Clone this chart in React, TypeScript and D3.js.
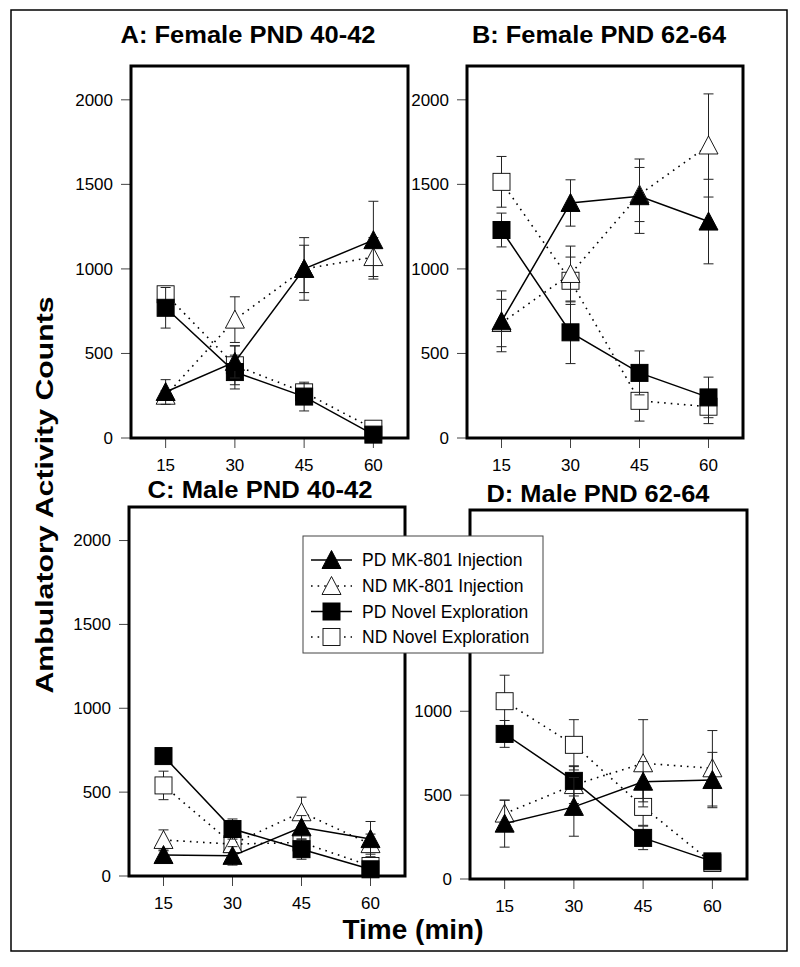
import React from "react";
import * as d3 from "d3";

// ---------- data ----------
const times = [15, 30, 45, 60];
const yTicks = [0, 500, 1000, 1500, 2000];
const panelTitles = ["A: Female PND 40-42", "B: Female PND 62-64", "C: Male PND 40-42", "D: Male PND 62-64"];
const seriesNames = ["PD MK-801 Injection", "ND MK-801 Injection", "PD Novel Exploration", "ND Novel Exploration"];

// Panel A: Female PND 40-42
const aPdMk = [272, 450, 1000, 1170];
const aPdMkErr = [73, 95, 185, 230];
const aNdMk = [250, 700, 1000, 1070];
const aNdMkErr = [30, 135, 140, 115];
const aPdNovel = [770, 390, 245, 20];
const aPdNovelErr = [120, 100, 85, 20];
const aNdNovel = [850, 430, 270, 55];
const aNdNovelErr = [35, 115, 50, 20];

// Panel B: Female PND 62-64
const bPdMk = [690, 1390, 1430, 1280];
const bPdMkErr = [180, 137, 220, 250];
const bNdMk = [680, 970, 1440, 1730];
const bNdMkErr = [140, 165, 160, 305];
const bPdNovel = [1230, 625, 385, 240];
const bPdNovelErr = [100, 185, 130, 120];
const bNdNovel = [1515, 930, 220, 185];
const bNdNovelErr = [150, 140, 120, 100];

// Panel C: Male PND 40-42
const cPdMk = [125, 120, 290, 220];
const cPdMkErr = [25, 55, 70, 105];
const cNdMk = [215, 190, 380, 190];
const cNdMkErr = [60, 40, 90, 60];
const cPdNovel = [715, 280, 160, 40];
const cPdNovelErr = [20, 60, 60, 20];
const cNdNovel = [540, 190, 200, 60];
const cNdNovelErr = [85, 50, 60, 40];

// Panel D: Male PND 62-64
const dPdMk = [330, 430, 580, 590];
const dPdMkErr = [140, 175, 120, 165];
const dNdMk = [390, 560, 690, 660];
const dNdMkErr = [80, 110, 260, 225];
const dPdNovel = [865, 585, 245, 105];
const dPdNovelErr = [80, 90, 70, 20];
const dNdNovel = [1060, 800, 430, 95];
const dNdNovelErr = [155, 150, 110, 20];

// ---------- styling / layout ----------
const FONT = "'Liberation Sans', Arial, Helvetica, sans-serif";

type Style = { marker: "tri" | "sq"; filled: boolean; dotted: boolean };
const styles: Style[] = [
  { marker: "tri", filled: true, dotted: false },
  { marker: "tri", filled: false, dotted: true },
  { marker: "sq", filled: true, dotted: false },
  { marker: "sq", filled: false, dotted: true },
];

type Panel = {
  title: string;
  box: { l: number; r: number; t: number; b: number };
  tx: number;
  ty: number;
  tlen: number;
  shownY: number[];
  vals: number[][];
  errs: number[][];
};

const panels: Panel[] = [
  { title: panelTitles[0], box: { l: 131, r: 408, t: 66, b: 438 }, tx: 248, ty: 43, tlen: 255, shownY: yTicks,
    vals: [aPdMk, aNdMk, aPdNovel, aNdNovel], errs: [aPdMkErr, aNdMkErr, aPdNovelErr, aNdNovelErr] },
  { title: panelTitles[1], box: { l: 467, r: 743, t: 66, b: 438 }, tx: 599, ty: 43, tlen: 254, shownY: yTicks,
    vals: [bPdMk, bNdMk, bPdNovel, bNdNovel], errs: [bPdMkErr, bNdMkErr, bPdNovelErr, bNdNovelErr] },
  { title: panelTitles[2], box: { l: 129, r: 405, t: 507, b: 876 }, tx: 260, ty: 498, tlen: 225, shownY: yTicks,
    vals: [cPdMk, cNdMk, cPdNovel, cNdNovel], errs: [cPdMkErr, cNdMkErr, cPdNovelErr, cNdNovelErr] },
  { title: panelTitles[3], box: { l: 470, r: 747, t: 510, b: 879 }, tx: 598, ty: 502, tlen: 223,
    shownY: yTicks.slice(0, 3),
    vals: [dPdMk, dNdMk, dPdNovel, dNdNovel], errs: [dPdMkErr, dNdMkErr, dPdNovelErr, dNdNovelErr] },
];

function Marker({ x, y, st }: { x: number; y: number; st: Style }) {
  const fill = st.filled ? "#000" : "#fff";
  if (st.marker === "tri") {
    const h = 17, w = 19;
    const pts = `${x},${y - h / 2 - 1} ${x + w / 2},${y + h / 2} ${x - w / 2},${y + h / 2}`;
    return <polygon points={pts} fill={fill} stroke="#000" strokeWidth={st.filled ? 1 : 0.9} />;
  }
  const s = 17;
  return <rect x={x - s / 2} y={y - s / 2} width={s} height={s} fill={fill} stroke="#000" strokeWidth={st.filled ? 1 : 0.9} />;
}

function PanelView({ p }: { p: Panel }) {
  const x = d3.scaleLinear().domain([7.5, 67.5]).range([p.box.l, p.box.r]);
  const y = d3.scaleLinear().domain([0, 2200]).range([p.box.b, p.box.t]);
  const line = d3.line<number>().x((_, i) => x(times[i])).y((d) => y(d));
  const order = [3, 1, 2, 0];
  return (
    <g>
      <text x={p.tx} y={p.ty} textAnchor="middle" fontFamily={FONT} fontWeight="bold" fontSize={23}
        textLength={p.tlen} lengthAdjust="spacingAndGlyphs">{p.title}</text>
      {p.shownY.map((t) => (
        <g key={"y" + t}>
          <line x1={p.box.l - 10} x2={p.box.l} y1={y(t)} y2={y(t)} stroke="#444" strokeWidth={1} />
          <text x={p.box.l - 18} y={y(t)} dy="0.35em" textAnchor="end" fontFamily={FONT} fontSize={17}>{t}</text>
        </g>
      ))}
      {times.map((t) => (
        <g key={"x" + t}>
          <line x1={x(t)} x2={x(t)} y1={p.box.b} y2={p.box.b + 10} stroke="#444" strokeWidth={1} />
          <text x={x(t)} y={p.box.b + 33} textAnchor="middle" fontFamily={FONT} fontSize={17}>{t}</text>
        </g>
      ))}
      {order.map((si) => {
        const st = styles[si];
        const v = p.vals[si];
        const e = p.errs[si];
        return (
          <g key={"s" + si}>
            {v.map((d, i) => (
              <g key={"e" + i} stroke="#222" strokeWidth={1}>
                <line x1={x(times[i])} x2={x(times[i])} y1={y(d - e[i])} y2={y(d + e[i])} />
                <line x1={x(times[i]) - 5} x2={x(times[i]) + 5} y1={y(d - e[i])} y2={y(d - e[i])} />
                <line x1={x(times[i]) - 5} x2={x(times[i]) + 5} y1={y(d + e[i])} y2={y(d + e[i])} />
              </g>
            ))}
            <path d={line(v) || ""} fill="none" stroke="#000" strokeWidth={st.dotted ? 1.6 : 1.5}
              strokeDasharray={st.dotted ? "1.6 5" : undefined} />
            {v.map((d, i) => (
              <Marker key={"m" + i} x={x(times[i])} y={y(d)} st={st} />
            ))}
          </g>
        );
      })}
      <rect x={p.box.l} y={p.box.t} width={p.box.r - p.box.l} height={p.box.b - p.box.t}
        fill="none" stroke="#000" strokeWidth={3} />
    </g>
  );
}

function Legend() {
  const lx = 303, ly = 536, lw = 240, lh = 117;
  const rows = [560, 586, 611.5, 637];
  return (
    <g>
      <rect x={lx} y={ly} width={lw} height={lh} fill="#fff" stroke="#444" strokeWidth={1} />
      {seriesNames.map((name, i) => {
        const st = styles[i];
        return (
          <g key={name}>
            <line x1={311} x2={352} y1={rows[i]} y2={rows[i]} stroke="#000" strokeWidth={st.dotted ? 1.6 : 1.5}
              strokeDasharray={st.dotted ? "1.6 5" : undefined} />
            <Marker x={331.5} y={rows[i]} st={st} />
            <text x={362} y={rows[i]} dy="0.36em" fontFamily={FONT} fontSize={17.5}>{name}</text>
          </g>
        );
      })}
    </g>
  );
}

export default function App() {
  return (
    <svg width={800} height={967} style={{ position: "absolute", left: 0, top: 0, background: "#fff" }}>
      <rect x={0} y={0} width={800} height={967} fill="#fff" />
      <rect x={11} y={10} width={776} height={941} fill="none" stroke="#000" strokeWidth={1.5} />
      {panels.map((p) => (
        <PanelView key={p.title} p={p} />
      ))}
      <text transform="translate(53,495) rotate(-90)" textAnchor="middle" fontFamily={FONT} fontWeight="bold"
        fontSize={24} textLength={397} lengthAdjust="spacingAndGlyphs">Ambulatory Activity Counts</text>
      <text x={413} y={939} textAnchor="middle" fontFamily={FONT} fontWeight="bold" fontSize={28}>Time (min)</text>
      <Legend />
    </svg>
  );
}
